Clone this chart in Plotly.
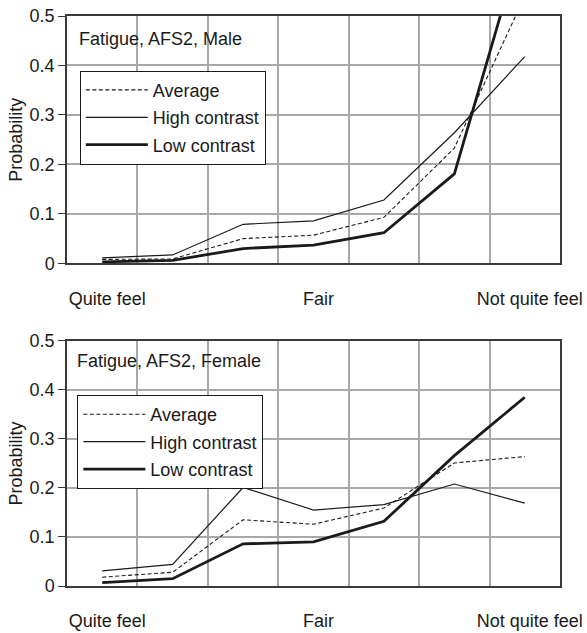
import plotly.graph_objects as go

x_pos = [1, 2, 3, 4, 5, 6, 7]
x_tickvals = [1, 4, 7]
x_ticktext = ["Quite feel", "Fair", "Not quite feel"]
series_names = ["Average", "High contrast", "Low contrast"]

male_avg = [0.008, 0.009, 0.050, 0.057, 0.093, 0.233, 0.54]
male_high = [0.011, 0.017, 0.079, 0.086, 0.128, 0.264, 0.418]
male_low = [0.003, 0.006, 0.030, 0.037, 0.062, 0.181, 0.67]

female_avg = [0.018, 0.028, 0.135, 0.126, 0.159, 0.251, 0.264]
female_high = [0.031, 0.044, 0.201, 0.155, 0.166, 0.208, 0.169]
female_low = [0.007, 0.015, 0.086, 0.090, 0.132, 0.266, 0.385]

titles = ["Fatigue, AFS2, Male", "Fatigue, AFS2, Female"]

FONT = "Liberation Sans, Arial, sans-serif"
INK = "#1a1a1a"
GRID = "#a8a8a8"
AXIS = "#3a3a3a"

styles = [
    dict(color=INK, width=1.1, dash="4px,2.5px"),
    dict(color=INK, width=1.2),
    dict(color=INK, width=2.8),
]

fig = go.Figure()

panels = [
    ([male_avg, male_high, male_low], "x", "y", "legend"),
    ([female_avg, female_high, female_low], "x2", "y2", "legend2"),
]
for data, xa, ya, lg in panels:
    for name, vals, st in zip(series_names, data, styles):
        fig.add_trace(go.Scatter(
            x=x_pos, y=vals, name=name, mode="lines", line=st,
            xaxis=xa, yaxis=ya, legend=lg, legendgroup=lg + name,
            hoverinfo="skip",
        ))

def xaxis_cfg(anchor):
    return dict(
        anchor=anchor, range=[0.5, 7.5], tickmode="array", automargin=False,
        tickvals=x_tickvals, ticktext=x_ticktext, showgrid=False,
        ticks="", ticklabelstandoff=18, ticklabelshift=5,
        tickfont=dict(family=FONT, size=18, color=INK),
        showline=True, linecolor=AXIS, linewidth=1.5, mirror=True,
        zeroline=False,
        minor=dict(tickmode="linear", tick0=1.5, dtick=1, showgrid=True,
                   gridcolor=GRID, gridwidth=1.5, ticks=""),
    )

def yaxis_cfg(anchor, domain):
    return dict(
        anchor=anchor, domain=domain, range=[0, 0.5], dtick=0.1, tick0=0,
        automargin=False,
        showgrid=True, gridcolor=GRID, gridwidth=1.5,
        ticks="outside", ticklen=7, tickcolor=AXIS, tickwidth=1.2,
        tickfont=dict(family=FONT, size=18, color=INK),
        showline=True, linecolor=AXIS, linewidth=1.5, mirror=True,
        zeroline=False,
        title=dict(text="Probability", font=dict(family=FONT, size=18, color=INK),
                   standoff=2),
    )

legend_common = dict(
    bgcolor="white", bordercolor=INK, borderwidth=1,
    font=dict(family=FONT, size=18, color=INK),
    xanchor="left", yanchor="top", tracegroupgap=1, itemwidth=62,
)

fig.update_layout(
    width=587, height=633,
    margin=dict(l=67, r=27, t=16, b=47),
    plot_bgcolor="white", paper_bgcolor="white",
    xaxis=xaxis_cfg("y"),
    yaxis=yaxis_cfg("x", [0.566, 1.0]),
    xaxis2=xaxis_cfg("y2"),
    yaxis2=yaxis_cfg("x2", [0.0, 0.430]),
    legend=dict(x=0.026, y=0.904, **legend_common),
    legend2=dict(x=0.021, y=0.335, **legend_common),
    showlegend=True,
    annotations=[
        dict(text=titles[0], xref="x domain", yref="y domain", x=0.02, y=0.906,
             xanchor="left", yanchor="middle", showarrow=False,
             font=dict(family=FONT, size=18, color=INK)),
        dict(text=titles[1], xref="x2 domain", yref="y2 domain", x=0.016, y=0.918,
             xanchor="left", yanchor="middle", showarrow=False,
             font=dict(family=FONT, size=18, color=INK)),
    ],
)

fig.write_html("out.html")
